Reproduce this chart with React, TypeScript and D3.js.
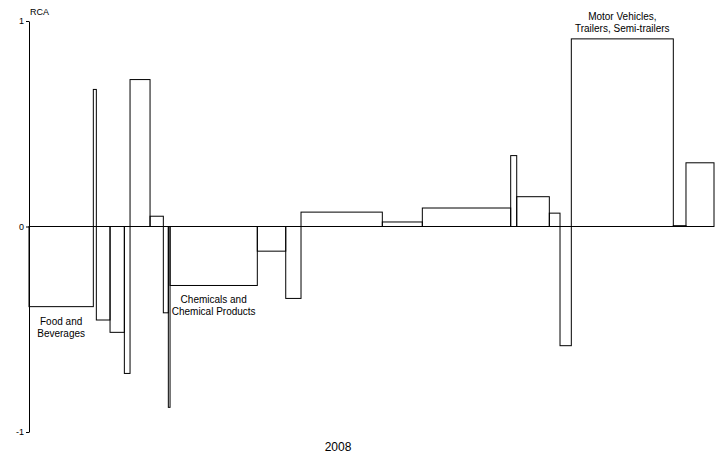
import React from "react";
import * as d3 from "d3";

// Sector shares (width, % of total) and RCA values, left to right
const shares = [9.39, 0.44, 2.0, 2.09, 0.83, 2.92, 1.94, 0.73, 0.25, 12.74, 4.15, 2.23, 11.87, 5.84, 12.9, 0.88, 4.76, 1.56, 1.65, 14.89, 1.85, 4.09];
const rca = [-0.39, 0.667, -0.455, -0.515, -0.715, 0.715, 0.05, -0.42, -0.88, -0.287, -0.12, -0.35, 0.07, 0.022, 0.09, 0.345, 0.145, 0.065, -0.58, 0.913, 0.004, 0.31];
const sectorLabels: { index: number; lines: string[] }[] = [
  { index: 0, lines: ["Food and", "Beverages"] },
  { index: 9, lines: ["Chemicals and", "Chemical Products"] },
  { index: 19, lines: ["Motor Vehicles,", "Trailers, Semi-trailers"] },
];
const yTicks = [-1, 0, 1];
const yearLabel = "2008";
const axisTitle = "RCA";

const W = 721;
const H = 454;

export default function App() {
  const x = d3.scaleLinear().domain([0, d3.sum(shares)]).range([29, 714]);
  const y = d3.scaleLinear().domain([-1, 1]).range([432, 21]);
  const starts = d3.cumsum([0, ...shares]);

  const axisRef = React.useRef<SVGGElement>(null);
  React.useEffect(() => {
    if (!axisRef.current) return;
    const g = d3.select(axisRef.current);
    g.call(
      d3.axisLeft(y).tickValues(yTicks).tickSize(3).tickSizeOuter(0).tickPadding(2).tickFormat((d) => String(d))
    );
    g.selectAll("text").attr("font-size", 9).attr("font-family", "'Liberation Sans', Arial, sans-serif").attr("fill", "#000");
    g.selectAll("line,path").attr("stroke", "#000");
  }, []);

  const font = "'Liberation Sans', Arial, sans-serif";

  return (
    <svg width={W} height={H} style={{ position: "absolute", left: 0, top: 0, background: "#fff" }}>
      {shares.map((s, i) => {
        const v = rca[i];
        const x0 = x(starts[i]);
        const x1 = x(starts[i] + s);
        const yTop = Math.min(y(v), y(0));
        const h = Math.abs(y(v) - y(0));
        return (
          <rect key={i} x={x0} y={yTop} width={x1 - x0} height={h} fill="none" stroke="#000" strokeWidth={1} />
        );
      })}
      <line x1={x(0)} x2={x(d3.sum(shares))} y1={y(0)} y2={y(0)} stroke="#000" strokeWidth={1} />
      <g ref={axisRef} transform={`translate(${x(0)},0)`} />
      <text x={x(0) + 1} y={15} fontSize={9} fontFamily={font}>{axisTitle}</text>
      {sectorLabels.map((l) => {
        const cx = x(starts[l.index] + shares[l.index] / 2);
        const v = rca[l.index];
        const base = v < 0 ? y(v) + 18 : y(v) - 19;
        return (
          <text key={l.index} x={cx} textAnchor="middle" fontSize={10} fontFamily={font}>
            {l.lines.map((ln, j) => (
              <tspan key={j} x={cx} y={base + j * 12}>{ln}</tspan>
            ))}
          </text>
        );
      })}
      <text x={338} y={451} textAnchor="middle" fontSize={12} fontFamily={font}>{yearLabel}</text>
    </svg>
  );
}
